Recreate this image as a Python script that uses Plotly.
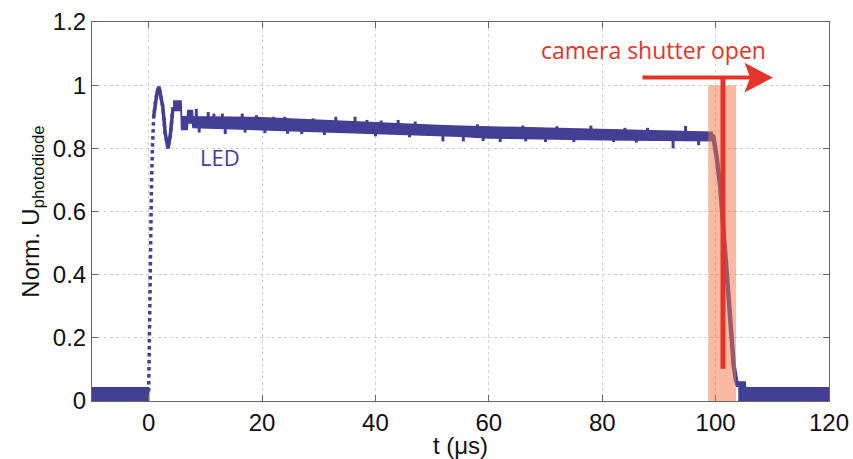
import plotly.graph_objects as go

# ---- data ---------------------------------------------------------------
# baseline noise band before switch-on and after switch-off (t in us)
base_left_t = [-10.0, 0.0]
base_right_t = [104.0, 105.2, 105.3, 120.0]
base_right_hi = [0.06, 0.06, 0.042, 0.042]
base_left_hi = [0.042, 0.042]
base_lo = 0.0

# switch-on edge and ringing of the LED
ring_t = [0.0, 0.1, 0.25, 0.47, 0.65, 0.88, 1.2, 1.5, 1.82, 2.1, 2.5, 2.9, 3.4, 3.8, 4.3]
ring_v = [0.03, 0.2, 0.45, 0.66, 0.795, 0.90, 0.95, 0.98, 0.995, 0.97, 0.93, 0.85, 0.80, 0.84, 0.93]

# plateau: upper / lower envelope of the noisy signal
env_t = [4.3, 5.7, 5.8, 6.8, 6.9, 7.7, 7.8, 9, 12, 15, 18, 20, 25, 30, 35, 40,
         45, 50, 55, 60, 65, 70, 75, 80, 85, 90, 95, 99.4]
env_hi = [0.95, 0.95, 0.90, 0.90, 0.92, 0.92, 0.90, 0.90, 0.90, 0.899, 0.898, 0.897,
          0.893, 0.888, 0.883, 0.879, 0.876, 0.873, 0.870, 0.868, 0.866, 0.863,
          0.861, 0.859, 0.857, 0.855, 0.853, 0.851]
env_lo = [0.92, 0.92, 0.86, 0.86, 0.88, 0.88, 0.866, 0.865, 0.863, 0.861, 0.859, 0.858,
          0.855, 0.852, 0.849, 0.847, 0.844, 0.841, 0.838, 0.833, 0.831, 0.829,
          0.828, 0.827, 0.826, 0.825, 0.824, 0.824]

# isolated noise spikes: time, start value, end value
spike_t = [8.4, 10.5, 11.5, 13.0, 16.5, 19.0, 22.0, 24.0, 29.0, 33.0, 36.4, 38.5,
           41.0, 44.0, 47.0, 58.0, 66.0, 72.0, 78.0, 84.0, 88.0, 94.7,
           8.9, 13.5, 17.0, 20.5, 24.5, 27.0, 31.0, 40.0, 46.0, 51.9, 55.5, 59.0,
           62.0, 66.5, 70.0, 75.0, 82.0, 86.0, 92.5, 97.0]
spike_from = [0.89, 0.89, 0.89, 0.89, 0.89, 0.89, 0.885, 0.885, 0.88, 0.88, 0.88, 0.875,
              0.87, 0.87, 0.87, 0.865, 0.86, 0.855, 0.85, 0.85, 0.85, 0.845,
              0.875, 0.87, 0.87, 0.865, 0.86, 0.86, 0.855, 0.85, 0.848, 0.845, 0.84, 0.838,
              0.84, 0.835, 0.835, 0.832, 0.83, 0.83, 0.83, 0.83]
spike_to = [0.925, 0.915, 0.91, 0.91, 0.91, 0.905, 0.90, 0.90, 0.895, 0.90, 0.90, 0.89,
            0.888, 0.89, 0.885, 0.876, 0.872, 0.87, 0.872, 0.865, 0.865, 0.871,
            0.85, 0.845, 0.85, 0.848, 0.846, 0.845, 0.842, 0.838, 0.835, 0.822, 0.822, 0.823,
            0.82, 0.822, 0.82, 0.82, 0.82, 0.818, 0.80, 0.81]

# switch-off edge
fall_t = [99.4, 99.6, 100.2, 100.8, 101.4, 102.0, 102.6, 103.2, 103.6, 104.0]
fall_v = [0.84, 0.838, 0.77, 0.68, 0.54, 0.40, 0.25, 0.11, 0.065, 0.045]

# camera exposure window and marker
shutter_t0, shutter_t1 = 98.7, 103.6
marker_t = 101.3
marker_bottom, marker_top = 0.102, 1.024
arrow_t0, arrow_t1 = 87.1, 110.1

x_ticks = [0, 20, 40, 60, 80, 100, 120]
y_ticks = [0, 0.2, 0.4, 0.6, 0.8, 1.0, 1.2]

LED_COLOR = "#433f94"
RED = "#e6332a"

# ---- figure -------------------------------------------------------------
fig = go.Figure()


def band(t, hi, lo):
    los = lo if isinstance(lo, list) else [lo] * len(t)
    fig.add_trace(go.Scatter(
        x=t + t[::-1], y=hi + los[::-1], fill="toself", mode="lines",
        fillcolor=LED_COLOR, line=dict(color=LED_COLOR, width=1.5),
        hoverinfo="skip", showlegend=False))


band(base_left_t, base_left_hi, base_lo)
band(base_right_t, base_right_hi, base_lo)
band(env_t, env_hi, env_lo)

# ringing edge, dotted like the sampled points
fig.add_trace(go.Scatter(x=ring_t, y=ring_v, mode="lines",
                         line=dict(color=LED_COLOR, width=3.5, dash="dot"),
                         showlegend=False))
fig.add_trace(go.Scatter(x=ring_t[5:], y=ring_v[5:], mode="lines",
                         line=dict(color=LED_COLOR, width=3.5),
                         showlegend=False))

# spikes as short vertical segments
sx, sy = [], []
for t, a, b in zip(spike_t, spike_from, spike_to):
    sx += [t, t, None]
    sy += [a, b, None]
fig.add_trace(go.Scatter(x=sx, y=sy, mode="lines",
                         line=dict(color=LED_COLOR, width=3), showlegend=False))

fig.add_trace(go.Scatter(x=fall_t, y=fall_v, mode="lines",
                         line=dict(color=LED_COLOR, width=4.5), showlegend=False))

# exposure window
fig.add_shape(type="rect", xref="x", yref="y", x0=shutter_t0, x1=shutter_t1,
              y0=0, y1=1.0, fillcolor="rgba(243,118,68,0.5)",
              line=dict(width=0), layer="above")
fig.add_shape(type="line", xref="x", yref="y", x0=marker_t, x1=marker_t,
              y0=marker_bottom, y1=marker_top, line=dict(color=RED, width=5),
              layer="above")
fig.add_shape(type="line", xref="x", yref="y", x0=arrow_t0, x1=arrow_t1 - 4.0,
              y0=marker_top, y1=marker_top, line=dict(color=RED, width=4),
              layer="above")
head_base = arrow_t1 - 5.0
fig.add_shape(type="path", xref="x", yref="y",
              path=(f"M {head_base},{marker_top + 0.047} L {arrow_t1},{marker_top} "
                    f"L {head_base},{marker_top - 0.047} "
                    f"L {head_base + 1.0},{marker_top} Z"),
              fillcolor=RED, line=dict(width=0), layer="above")

fig.add_annotation(x=89.0, y=1.112, xref="x", yref="y", text="camera shutter open",
                   showarrow=False, font=dict(family="Open Sans", size=23, color=RED))
fig.add_annotation(x=12.5, y=0.773, xref="x", yref="y", text="LED",
                   showarrow=False, font=dict(family="Open Sans", size=22, color=LED_COLOR))

axis_common = dict(showline=True, linecolor="#666666", linewidth=1, mirror="ticks",
                   ticks="inside", ticklen=6, tickcolor="#666666",
                   showgrid=True, gridcolor="#d2d2d2", griddash="dot", gridwidth=1,
                   zeroline=False, automargin=False,
                   tickfont=dict(family="Liberation Sans", size=24, color="#111111"))

fig.update_xaxes(range=[-10, 120], tickvals=x_ticks,
                 title=dict(text="t (\u03bcs)", standoff=2,
                            font=dict(family="Liberation Sans", size=24, color="#111111")),
                 **axis_common)
fig.update_yaxes(range=[0, 1.2], tickvals=y_ticks,
                 ticktext=[f"{v:g}" for v in y_ticks],
                 title=dict(text="Norm. U<sub>photodiode</sub>", standoff=6,
                            font=dict(family="Liberation Sans", size=24, color="#111111")),
                 **axis_common)

fig.update_layout(width=853, height=459, plot_bgcolor="white", paper_bgcolor="white",
                  margin=dict(l=92, r=24, t=22, b=58), showlegend=False)

fig.write_html("out.html")
